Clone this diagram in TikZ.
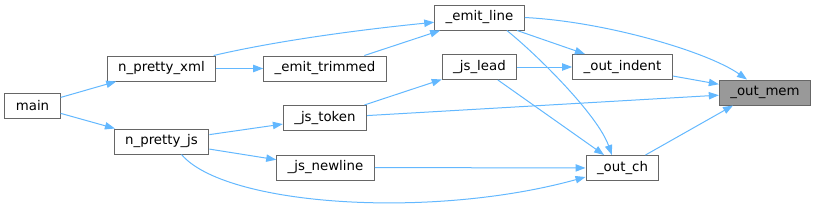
\documentclass[tikz,border=0pt]{standalone}
\usepackage{fontspec}
\setmainfont{DejaVu Sans}
\usetikzlibrary{arrows.meta}
\definecolor{edgeblue}{HTML}{63B8FF}
\begin{document}
\begin{tikzpicture}[x=0.75pt, y=-0.75pt,
    fn/.style={draw=black!60, line width=0.75pt, fill=white, font=\fontsize{10}{12}\selectfont,
      minimum height=18.75pt, inner xsep=8.25pt, inner ysep=0pt},
    edge/.style={draw=edgeblue, line width=0.75pt, -{Triangle[length=7.5pt, width=5.5pt]}}]
  \useasboundingbox (0,0) rectangle (816,211);
  % Nodes
  \node[fn] (main)  at (32.5,105.5) {main};
  \node[fn] (nxml)  at (161.5,68.5) {n\_pretty\_xml};
  \node[fn] (njs)   at (161.5,141.5) {n\_pretty\_js};
  \node[fn] (etrim) at (325,68.5) {\_emit\_trimmed};
  \node[fn] (jtok)  at (325,118) {\_js\_token};
  \node[fn] (jnl)   at (325.5,167.5) {\_js\_newline};
  \node[fn] (eline) at (479.5,17.5) {\_emit\_line};
  \node[fn] (jlead) at (479.5,67) {\_js\_lead};
  \node[fn] (oind)  at (622.5,67) {\_out\_indent};
  \node[fn] (och)   at (622.5,168) {\_out\_ch};
  \node[fn, fill=black!40] (omem) at (765,92.5) {\_out\_mem};
  % Straight edges
  \foreach \a/\b in {main/nxml, main/njs, nxml/etrim, etrim/eline, eline/oind,
                     jlead/oind, jlead/och, jtok/jlead, jtok/omem, njs/jtok,
                     njs/jnl, jnl/och, oind/omem}
    \draw[edge] (\a) -- (\b);
  \draw[edge] (och) -- ([xshift=-24pt]omem.south);
  % Curved edges
  \draw[edge] (nxml.14) .. controls +(60,-14) and +(-80,8) .. (eline.186);
  \draw[edge] (eline.east) .. controls +(80,4) and +(-40,-28) .. ([xshift=-13.5pt]omem.north);
  \draw[edge] ([xshift=20.5pt]eline.south) .. controls +(30,24) and +(-14,-40) .. ([xshift=-8pt]och.north);
  \draw[edge] ([xshift=15pt]njs.south) .. controls +(43,51) and +(-156,43) .. ([yshift=-6.75pt]och.west);
\end{tikzpicture}
\end{document}
